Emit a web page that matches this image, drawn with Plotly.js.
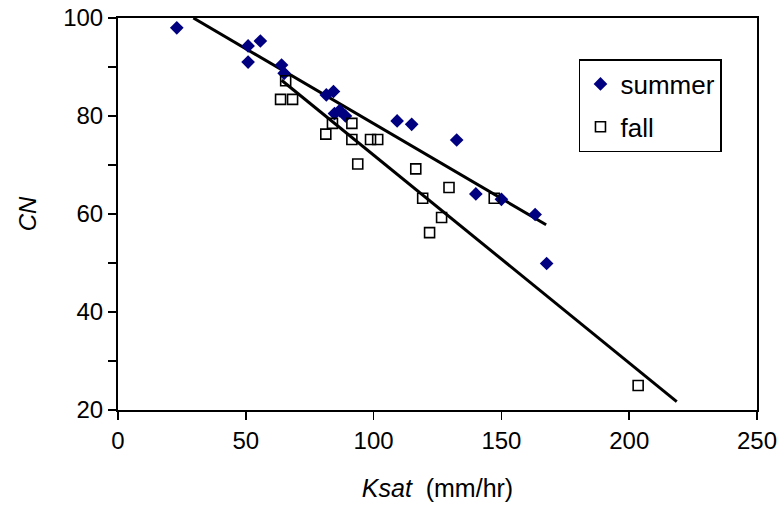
<!DOCTYPE html>
<html>
<head>
<meta charset="utf-8">
<script src="https://cdn.plot.ly/plotly-3.0.1.min.js"></script>
<style>html,body{margin:0;padding:0;background:#fff;}#chart{width:784px;height:513px;}</style>
</head>
<body>
<div id="chart"></div>
<script>
// Summer series (Ksat mm/hr, CN)
const summerKsat = [23, 50.9, 55.7, 50.9, 64, 65, 81.5, 84.3, 84.7, 86.7, 89, 109.2, 114.9, 132.5, 140, 150, 163.2, 167.7];
const summerCN   = [98, 94.3, 95.3, 91, 90.4, 88.7, 84.3, 85, 80.5, 81.1, 80, 79, 78.3, 75.1, 64.1, 63, 59.9, 49.9];
// Fall series
const fallKsat = [63.6, 65.6, 68.3, 81.3, 83.9, 91.5, 91.5, 93.8, 98.8, 101.6, 116.5, 119.2, 121.9, 126.6, 129.5, 147.2, 203.5];
const fallCN   = [83.4, 87.2, 83.4, 76.3, 78.5, 78.5, 75.2, 70.2, 75.2, 75.2, 69.2, 63.2, 56.2, 59.3, 65.4, 63.2, 25];
// Linear trendlines, end points
const summerTrendKsat = [29.5, 167.5];
const summerTrendCN   = [100, 57.8];
const fallTrendKsat   = [64, 218.6];
const fallTrendCN     = [87.3, 21.7];

const FONT = 'Liberation Sans, Arial, sans-serif';
const data = [
  { x: summerTrendKsat, y: summerTrendCN, mode: 'lines', line: { color: '#000', width: 3 }, showlegend: false, hoverinfo: 'skip' },
  { x: fallTrendKsat, y: fallTrendCN, mode: 'lines', line: { color: '#000', width: 3 }, showlegend: false, hoverinfo: 'skip' },
  { x: summerKsat, y: summerCN, mode: 'markers', name: 'summer', type: 'scatter', legendgroup: 'a',
    marker: { symbol: 'diamond', size: 10.5, color: '#000080', line: { width: 0 } } },
  { x: fallKsat, y: fallCN, mode: 'markers', name: 'fall', type: 'scatter', legendgroup: 'b',
    marker: { symbol: 'square-open', size: 10, color: '#000', line: { width: 1.6, color: '#000' } } }
];

const layout = {
  width: 784, height: 513,
  margin: { l: 118, r: 27, t: 18, b: 103 },
  paper_bgcolor: '#fff', plot_bgcolor: '#fff',
  font: { family: FONT, color: '#000', size: 24 },
  showlegend: true,
  legend: {
    x: 0.7214, y: 0.8954, xanchor: 'left', yanchor: 'top',
    bgcolor: '#fff', bordercolor: '#000', borderwidth: 1.5,
    font: { family: FONT, size: 26, color: '#000' },
    itemwidth: 30, traceorder: 'grouped', tracegroupgap: 6
  },
  xaxis: {
    range: [0, 250], dtick: 50, tick0: 0,
    showgrid: false, zeroline: false,
    showline: true, linecolor: '#000', linewidth: 2, mirror: true,
    ticks: 'outside', ticklen: 8, tickwidth: 1.5, tickcolor: '#000',
    tickfont: { family: FONT, size: 24 },
    title: { text: '<i>Ksat</i>&nbsp; (mm/hr)', font: { family: FONT, size: 25 }, standoff: 27 }
  },
  yaxis: {
    range: [20, 100], dtick: 20, tick0: 20,
    showgrid: false, zeroline: false,
    showline: true, linecolor: '#000', linewidth: 2, mirror: true,
    ticks: 'outside', ticklen: 8, tickwidth: 1.5, tickcolor: '#000',
    minor: { dtick: 10, ticks: 'outside', ticklen: 8, tickwidth: 1.5, tickcolor: '#000', showgrid: false },
    tickfont: { family: FONT, size: 24 },
    title: { text: '<i>CN</i>', font: { family: FONT, size: 24 }, standoff: 20 }
  }
};

Plotly.newPlot('chart', data, layout, { displayModeBar: false, staticPlot: true });
</script>
</body>
</html>
